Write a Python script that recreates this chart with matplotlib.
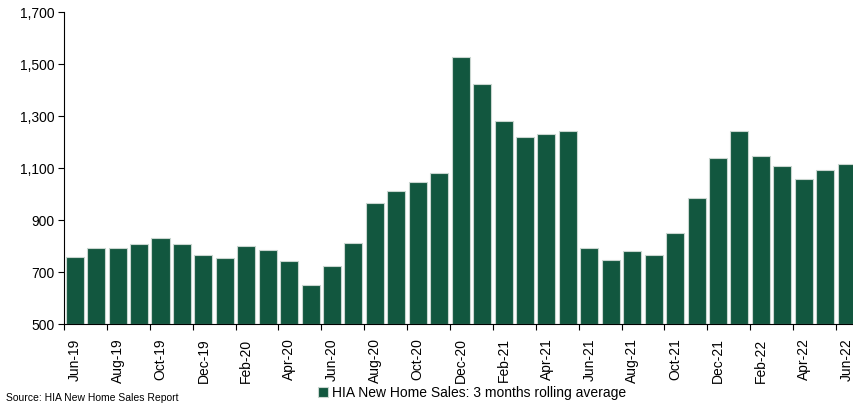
import numpy as np
import matplotlib
matplotlib.use("Agg")
import matplotlib.pyplot as plt
from matplotlib.ticker import FuncFormatter

# HIA new home sales, 3 month rolling average, Jun-19 .. Jun-22
months = ["Jun-19", "Jul-19", "Aug-19", "Sep-19", "Oct-19", "Nov-19", "Dec-19",
          "Jan-20", "Feb-20", "Mar-20", "Apr-20", "May-20", "Jun-20", "Jul-20",
          "Aug-20", "Sep-20", "Oct-20", "Nov-20", "Dec-20", "Jan-21", "Feb-21",
          "Mar-21", "Apr-21", "May-21", "Jun-21", "Jul-21", "Aug-21", "Sep-21",
          "Oct-21", "Nov-21", "Dec-21", "Jan-22", "Feb-22", "Mar-22", "Apr-22",
          "May-22", "Jun-22"]
sales = [757, 789, 789, 808, 831, 805, 762, 751, 798, 785, 739, 649, 722,
         811, 963, 1010, 1047, 1079, 1525, 1421, 1281, 1217, 1231, 1242,
         790, 744, 778, 763, 848, 985, 1138, 1242, 1145, 1108, 1055, 1092,
         1113]

green = "#12573F"
plt.rcParams['font.family'] = ['Liberation Sans', 'DejaVu Sans']

fig = plt.figure(figsize=(8.54, 4.06), dpi=100)
ax = fig.add_axes([64 / 854, 1 - 324.5 / 406, (857.4 - 64) / 854, 311.5 / 406])

x = np.arange(len(sales))
ax.bar(x, np.array(sales) - 500, bottom=500, width=0.84, color=green,
       edgecolor="#c9d6d0", linewidth=0.8, label="HIA New Home Sales: 3 months rolling average")

ax.set_xlim(-0.5, len(sales) - 0.5)
ax.set_ylim(500, 1700)
ax.set_yticks(np.arange(500, 1701, 200))
ax.yaxis.set_major_formatter(FuncFormatter(lambda v, p: "{:,.0f}".format(v)))

# labels on every second month, tick marks between categories
ax.set_xticks(x[::2])
ax.set_xticklabels(months[::2], rotation=90, fontsize=10)
ax.set_xticks(np.arange(-0.5, len(sales), 2), minor=True)
ax.tick_params(axis="x", which="major", length=0, pad=10)
ax.tick_params(axis="x", which="minor", length=4, direction="out", width=0.8)
ax.tick_params(axis="y", length=4, width=0.8, labelsize=10, pad=3)

for s in ["top", "right"]:
    ax.spines[s].set_visible(False)
for s in ["left", "bottom"]:
    ax.spines[s].set_linewidth(0.8)

leg = fig.legend(loc="center", bbox_to_anchor=(472 / 854, 1 - 393.5 / 406), frameon=False,
                 handlelength=0.75, handleheight=0.75, handletextpad=0.25,
                 prop={'size': 10})

fig.text(6 / 854, 1 - 398 / 406, "Source: HIA New Home Sales Report", fontsize=7.5,
         va="center")

fig.savefig("out.png", dpi=100)
